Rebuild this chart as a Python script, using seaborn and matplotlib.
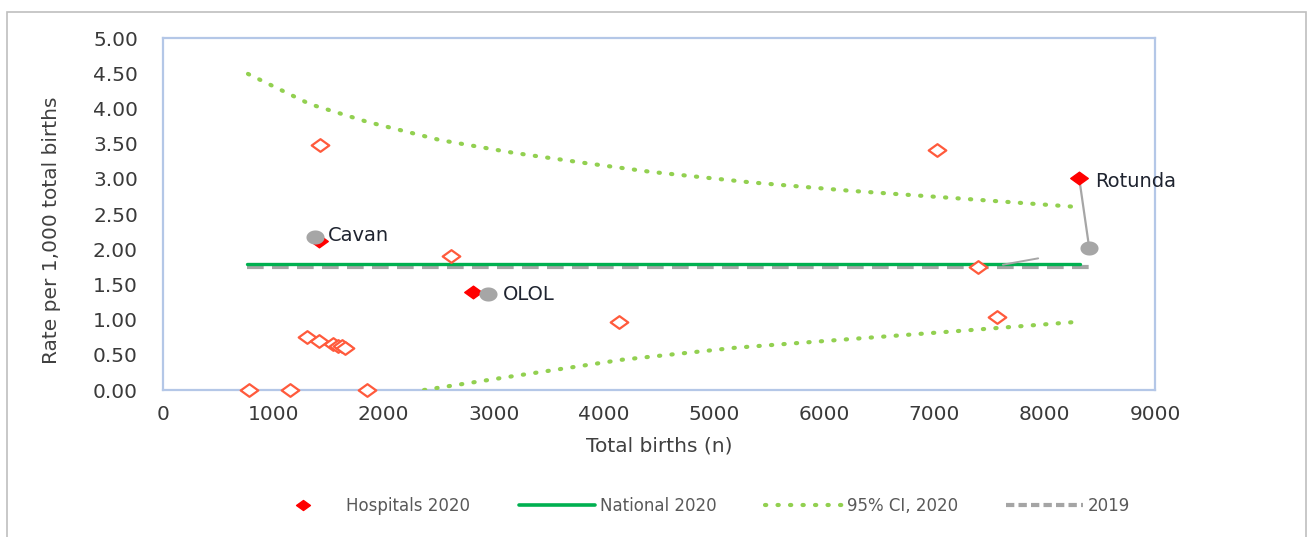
import matplotlib
matplotlib.use("Agg")
import matplotlib.pyplot as plt
import numpy as np
import pandas as pd
import seaborn as sns
from matplotlib.path import Path
from matplotlib.lines import Line2D
from matplotlib.patches import Rectangle

# Hospitals, 2020 (total births, rate per 1,000 total births)
hosp_births = [780, 1152, 1851, 1307, 1416, 1543, 1590, 1620, 1652,
               1425, 2613, 4138, 7024, 7396, 7568]
hosp_rate = [0.00, 0.00, 0.00, 0.75, 0.69, 0.65, 0.63, 0.62, 0.60,
             3.48, 1.90, 0.97, 3.41, 1.75, 1.04]

# Named hospitals: 2020 and 2019 values
named = ["Cavan", "OLOL", "Rotunda"]
named_births_2020 = [1416, 2813, 8312]
named_rate_2020 = [2.12, 1.39, 3.01]
named_births_2019 = [1379, 2949, 8403]
named_rate_2019 = [2.17, 1.36, 2.02]

# National rates
national_2020 = 1.79
national_2019 = 1.75
national_range = [762, 8321]
national_2019_range = [762, 8430]

# 95% CI funnel, 2020
ci_upper_births = [771, 1334, 1851, 2514, 3176, 3848, 4419, 5327, 6234, 7142, 8294]
ci_upper_rate = [4.49, 4.06, 3.81, 3.55, 3.37, 3.22, 3.10, 2.95, 2.83, 2.73, 2.60]
ci_lower_births = [2368, 3149, 4165, 5191, 6207, 7232, 8312]
ci_lower_rate = [0.00, 0.19, 0.43, 0.60, 0.72, 0.84, 0.97]

# short connector near the 2019 line
stub_births = [7620, 7940]
stub_rate = [1.78, 1.87]

sns.set_theme(style="white")
plt.rcParams["font.family"] = ["DejaVu Sans"]

fig = plt.figure(figsize=(13.11, 5.37), dpi=100)
ax = fig.add_axes([163 / 1311, 1 - 390 / 537, (1155 - 163) / 1311, (390 - 38) / 537])

# wide diamond / ellipse marker shapes
diamond = Path([(-1, 0), (0, 0.72), (1, 0), (0, -0.72), (-1, 0)],
               [Path.MOVETO, Path.LINETO, Path.LINETO, Path.LINETO, Path.CLOSEPOLY])
t = np.linspace(0, 2 * np.pi, 40)
ellipse = Path(np.column_stack([np.cos(t), 0.78 * np.sin(t)]))

gray = "#A6A6A6"
green = "#00B050"
ci_green = "#92D050"
red = "#FF0000"
orange_red = "#FF5A3C"
dotted = (0, (0.3, 2.7))

# 2019 national line
df19 = pd.DataFrame({"x": national_2019_range, "y": [national_2019] * 2})
sns.lineplot(data=df19, x="x", y="y", ax=ax, color="#A5A5A5", lw=3.0,
             linestyle=(0, (4.0, 2.0)), zorder=2)
# 2020 national line
df20 = pd.DataFrame({"x": national_range, "y": [national_2020] * 2})
sns.lineplot(data=df20, x="x", y="y", ax=ax, color=green, lw=2.4, zorder=3)

# CI funnel
dfu = pd.DataFrame({"x": ci_upper_births, "y": ci_upper_rate})
dfl = pd.DataFrame({"x": ci_lower_births, "y": ci_lower_rate})
for d in (dfu, dfl):
    sns.lineplot(data=d, x="x", y="y", ax=ax, color=ci_green, lw=3.0,
                 linestyle=dotted, dash_capstyle="round", zorder=3)

# connectors
sns.lineplot(x=stub_births, y=stub_rate, ax=ax, color=gray, lw=1.4, zorder=3)
for i in range(len(named)):
    ax.plot([named_births_2020[i], named_births_2019[i]],
            [named_rate_2020[i], named_rate_2019[i]], color=gray, lw=1.6, zorder=4)

# other hospitals (hollow diamonds)
sns.scatterplot(x=hosp_births, y=hosp_rate, ax=ax, marker=diamond, s=160,
                facecolor="white", edgecolor=orange_red, linewidth=1.6, zorder=5,
                clip_on=False)
# named hospitals 2020 (filled)
sns.scatterplot(x=named_births_2020, y=named_rate_2020, ax=ax, marker=diamond, s=160,
                color=red, edgecolor=red, linewidth=1.0, zorder=6)
# named hospitals 2019
sns.scatterplot(x=named_births_2019, y=named_rate_2019, ax=ax, marker=ellipse, s=170,
                color=gray, edgecolor=gray, linewidth=0, zorder=7)

offsets = {"Cavan": (6.5, 3.6), "OLOL": (21.5, -1.4), "Rotunda": (11.5, -2.2)}
for name, bx, ry in zip(named, named_births_2020, named_rate_2020):
    ax.annotate(name, (bx, ry), xytext=offsets[name], textcoords="offset points",
                ha="left", va="center", fontsize=14, color="#1F2430", zorder=8)

ax.set_xlim(0, 9000)
ax.set_ylim(0, 5)
ax.set_xticks(range(0, 9001, 1000))
ax.set_yticks(np.arange(0, 5.01, 0.5))
ax.set_yticklabels([f"{v:.2f}" for v in np.arange(0, 5.01, 0.5)])
ax.tick_params(axis="both", length=0, labelsize=14.5, labelcolor="#3A3A3A")
ax.tick_params(axis="x", pad=11)
ax.tick_params(axis="y", pad=18)
for s in ax.spines.values():
    s.set_color("#B4C7E7")
    s.set_linewidth(1.6)

ax.set_xlabel("Total births (n)", fontsize=14.5, color="#404040", labelpad=9)
ax.set_ylabel("Rate per 1,000 total births", fontsize=14.5, color="#404040")
ax.yaxis.set_label_coords(-0.103, 0.455)

handles = [
    Line2D([], [], marker=diamond, ls="none", color=red, markersize=10),
    Line2D([], [], color=green, lw=2.6),
    Line2D([], [], color=ci_green, lw=3.0, linestyle=dotted, dash_capstyle="round"),
    Line2D([], [], color="#A5A5A5", lw=3.0, linestyle=(0, (2.0, 1.0))),
]
labels = ["Hospitals 2020", "National 2020", "95% CI, 2020", "2019"]
leg = fig.legend(handles, labels, loc="center", bbox_to_anchor=(0.532, 0.058), ncol=4,
                 frameon=False, fontsize=12, handlelength=4.6, handletextpad=0.3,
                 columnspacing=2.9)
for txt in leg.get_texts():
    txt.set_color("#595959")

# outer chart border
fig.patches.append(Rectangle((7 / 1311, -0.02), (1306 - 7) / 1311, 1.02 - 12 / 537,
                             transform=fig.transFigure, fill=False, edgecolor="#BFBFBF",
                             lw=1.2))

fig.savefig("out.png", dpi=100)
